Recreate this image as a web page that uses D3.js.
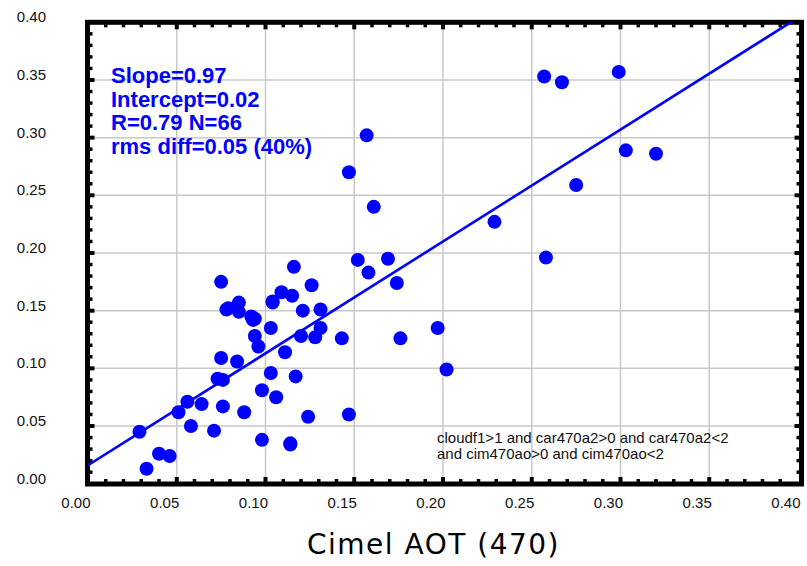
<!DOCTYPE html>
<html>
<head>
<meta charset="utf-8">
<script src="https://cdn.jsdelivr.net/npm/d3@7"></script>
<style>
  body { margin: 0; background: #fff; }
  svg { display: block; }
</style>
</head>
<body>
<div id="chart"></div>
<script>
// Cimel AOT (x) vs retrieved AOT (y)
const cimelAot = [0.029, 0.033, 0.040, 0.046, 0.051, 0.056, 0.058, 0.064, 0.071, 0.076,
  0.073, 0.076, 0.088, 0.098, 0.098, 0.106, 0.114, 0.114, 0.103, 0.117,
  0.124, 0.111, 0.075, 0.084, 0.094, 0.096, 0.103, 0.120, 0.128, 0.131,
  0.143, 0.078, 0.085, 0.092, 0.093, 0.085, 0.104, 0.109, 0.115, 0.131,
  0.075, 0.116, 0.126, 0.152, 0.147, 0.157, 0.161, 0.158, 0.169, 0.174,
  0.176, 0.197, 0.202, 0.147, 0.229, 0.258, 0.257, 0.267, 0.299, 0.303,
  0.320, 0.275, 0.094, 0.079, 0.121, 0.104];
const retrievedAot = [0.045, 0.013, 0.026, 0.024, 0.062, 0.071, 0.050, 0.069, 0.046, 0.067,
  0.091, 0.090, 0.062, 0.081, 0.038, 0.075, 0.034, 0.035, 0.096, 0.093,
  0.058, 0.114, 0.109, 0.106, 0.128, 0.119, 0.135, 0.128, 0.127, 0.135,
  0.126, 0.151, 0.149, 0.145, 0.142, 0.157, 0.157, 0.166, 0.163, 0.151,
  0.175, 0.188, 0.172, 0.194, 0.270, 0.302, 0.240, 0.183, 0.195, 0.174,
  0.126, 0.135, 0.099, 0.060, 0.227, 0.196, 0.353, 0.348, 0.357, 0.289,
  0.286, 0.259, 0.143, 0.152, 0.150, 0.158];

const xTicks = [0, 0.05, 0.10, 0.15, 0.20, 0.25, 0.30, 0.35, 0.40];
const yTicks = [0, 0.05, 0.10, 0.15, 0.20, 0.25, 0.30, 0.35, 0.40];
const minorStep = 0.01;

const fitSlope = 0.97;
const fitIntercept = 0.016;

const statLines = ["Slope=0.97", "Intercept=0.02", "R=0.79 N=66", "rms diff=0.05 (40%)"];
const filterLines = ["cloudf1>1 and car470a2>0 and car470a2<2", "and cim470ao>0 and cim470ao<2"];
const xTitle = "Cimel AOT (470)";

const width = 807, height = 566;
const blue = "#0000ff";

const x = d3.scaleLinear().domain([0, 0.4]).range([88, 798]);
const y = d3.scaleLinear().domain([0, 0.4]).range([483.7, 22.3]);

const svg = d3.select("#chart").append("svg")
  .attr("width", width)
  .attr("height", height);

svg.append("defs").append("clipPath").attr("id", "plotClip")
  .append("rect")
  .attr("x", x(0)).attr("y", y(0.4))
  .attr("width", x(0.4) - x(0)).attr("height", y(0) - y(0.4));

// grid
const grid = svg.append("g").attr("stroke", "#c8c8c8").attr("stroke-width", 1.5);
grid.selectAll(".vg").data(xTicks.slice(1, -1)).enter().append("line")
  .attr("x1", d => x(d)).attr("x2", d => x(d))
  .attr("y1", y(0.4)).attr("y2", y(0));
grid.selectAll(".hg").data(yTicks.slice(1, -1)).enter().append("line")
  .attr("x1", x(0)).attr("x2", x(0.4))
  .attr("y1", d => y(d)).attr("y2", d => y(d));

// frame
const fLeft = x(0) - 0.5, fRight = x(0.4) + 3.5, fTop = y(0.4), fBottom = y(0) + 0.3;
svg.append("rect")
  .attr("x", fLeft).attr("y", fTop)
  .attr("width", fRight - fLeft).attr("height", fBottom - fTop)
  .attr("fill", "none")
  .attr("stroke", "#000")
  .attr("stroke-width", 5);

// minor / major ticks pointing inward
const minors = d3.range(1, 40).map(i => i * minorStep);
const isMajor = v => Math.abs(v / 0.05 - Math.round(v / 0.05)) < 1e-6;
const ticks = svg.append("g").attr("stroke", "#000");
minors.forEach(v => {
  const len = isMajor(v) ? 5 : 3;
  const w = isMajor(v) ? 4 : 3.5;
  ticks.append("line").attr("stroke-width", w)
    .attr("x1", x(v)).attr("x2", x(v))
    .attr("y1", fBottom - 2).attr("y2", fBottom - 2 - len);
  ticks.append("line").attr("stroke-width", w)
    .attr("x1", x(v)).attr("x2", x(v))
    .attr("y1", fTop + 2).attr("y2", fTop + 2 + len);
  ticks.append("line").attr("stroke-width", w)
    .attr("y1", y(v)).attr("y2", y(v))
    .attr("x1", fLeft + 2).attr("x2", fLeft + 2 + len);
  ticks.append("line").attr("stroke-width", w)
    .attr("y1", y(v)).attr("y2", y(v))
    .attr("x1", fRight - 2).attr("x2", fRight - 2 - len);
});

// axes labels
const fmt = d3.format(".2f");
const xAxis = svg.append("g")
  .attr("transform", "translate(0,508)")
  .call(d3.axisBottom(x).tickValues(xTicks).tickFormat(fmt).tickSize(0));
xAxis.select(".domain").remove();
xAxis.selectAll("text")
  .attr("y", 0).attr("dy", 0).attr("dx", 2)
  .attr("text-anchor", "end");

const yAxis = svg.append("g")
  .attr("transform", "translate(46,0)")
  .call(d3.axisLeft(y).tickValues(yTicks).tickFormat(fmt).tickSize(0));
yAxis.select(".domain").remove();
yAxis.selectAll("text").attr("x", 0).attr("dy", -0.5);

svg.selectAll(".tick text")
  .attr("font-family", "'Liberation Sans', Arial, sans-serif")
  .attr("font-size", 15)
  .attr("fill", "#111");

// regression line
svg.append("line")
  .attr("clip-path", "url(#plotClip)")
  .attr("x1", x(0)).attr("y1", y(fitIntercept))
  .attr("x2", x(0.4)).attr("y2", y(fitIntercept + fitSlope * 0.4))
  .attr("stroke", blue)
  .attr("stroke-width", 2.6);

// points
svg.append("g")
  .selectAll("circle")
  .data(cimelAot.map((d, i) => [d, retrievedAot[i]]))
  .enter().append("circle")
  .attr("cx", d => x(d[0]))
  .attr("cy", d => y(d[1]))
  .attr("r", 7)
  .attr("fill", blue);

// stats
svg.append("g").selectAll("text")
  .data(statLines)
  .enter().append("text")
  .attr("x", 111)
  .attr("y", (d, i) => 83 + i * 23.5)
  .attr("font-family", "'Liberation Sans', Arial, sans-serif")
  .attr("font-weight", "bold")
  .attr("font-size", 22)
  .attr("fill", blue)
  .text(d => d);

// filter note
svg.append("g").selectAll("text")
  .data(filterLines)
  .enter().append("text")
  .attr("x", 437)
  .attr("y", (d, i) => 443 + i * 16)
  .attr("font-family", "'Liberation Sans', Arial, sans-serif")
  .attr("font-size", 15)
  .attr("fill", "#111")
  .text(d => d);

// x title
svg.append("text")
  .attr("x", 307)
  .attr("y", 554)
  .attr("font-family", "'DejaVu Sans', Verdana, sans-serif")
  .attr("font-size", 28)
  .attr("letter-spacing", 1.5)
  .attr("fill", "#000")
  .text(xTitle);
</script>
</body>
</html>
